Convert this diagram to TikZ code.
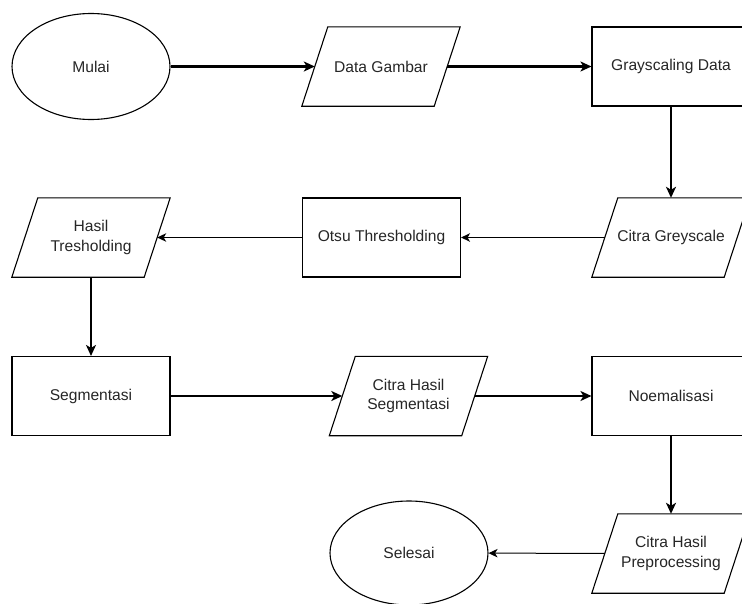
\documentclass[tikz,border=0pt]{standalone}
\usepackage{fontspec}
\setmainfont{Liberation Sans}
\usetikzlibrary{arrows.meta,shapes.geometric}
\begin{document}
\begin{tikzpicture}[x=1pt,y=-1pt,
  shapeline/.style={draw=black,line width=1.1pt},
  txt/.style={font=\fontsize{15.6}{19.5}\selectfont,align=center,text=black!85},
  terminal/.style={ellipse,shapeline,txt,minimum width=158pt,minimum height=106pt,inner sep=0pt},
  process/.style={rectangle,shapeline,txt,minimum width=158pt,minimum height=79pt,inner sep=0pt},
  io/.style={rectangle,txt,minimum width=132pt,minimum height=79pt,inner sep=0pt},
  flow/.style={line width=2.2pt,-{Stealth[length=11pt,width=10pt,inset=3pt]}},
  flowthin/.style={line width=1pt,-{Stealth[length=9pt,width=8.5pt,inset=2.5pt]}},
]
\clip (0,0) rectangle (742,603);

% first row
\node[terminal] (mulai) at (91,66.5) {Mulai};
\node[io]       (dg)    at (381,66.5) {Data Gambar};
\node[process]  (gd)    at (671,66.5) {Grayscaling Data};

% second row
\node[io]       (cg) at (671,237.5) {Citra Greyscale};
\node[process]  (ot) at (381.5,237.5) {Otsu Thresholding};
\node[io]       (ht) at (91,237.5) {Hasil\\Tresholding};

% third row
\node[process]  (seg) at (91,396) {Segmentasi};
\node[io]       (chs) at (408.5,396) {Citra Hasil\\Segmentasi};
\node[process]  (noe) at (671,396) {Noemalisasi};

% fourth row
\node[io]       (chp) at (671,553.5) {Citra Hasil\\Preprocessing};
\node[terminal,minimum height=104pt] (sel) at (409,553) {Selesai};

% data (parallelogram) outlines around the io nodes
\foreach \n in {dg,cg,ht,chs,chp}
  \draw[shapeline,line join=miter]
    ([xshift=-13pt]\n.south west) -- ([xshift=-13pt]\n.south east) --
    ([xshift=13pt]\n.north east) -- ([xshift=13pt]\n.north west) -- cycle;

% connectors
\draw[flow] (mulai) -- (dg);
\draw[flow] (dg) -- (gd);
\draw[flow] (gd) -- (cg);
\draw[flowthin] (cg) -- (ot);
\draw[flowthin] (ot) -- (ht);
\draw[flow] (ht) -- (seg);
\draw[flow] (seg) -- (chs);
\draw[flow] (chs) -- (noe);
\draw[flow] (noe) -- (chp);
\draw[flowthin] (chp) -- (sel);
\end{tikzpicture}
\end{document}
